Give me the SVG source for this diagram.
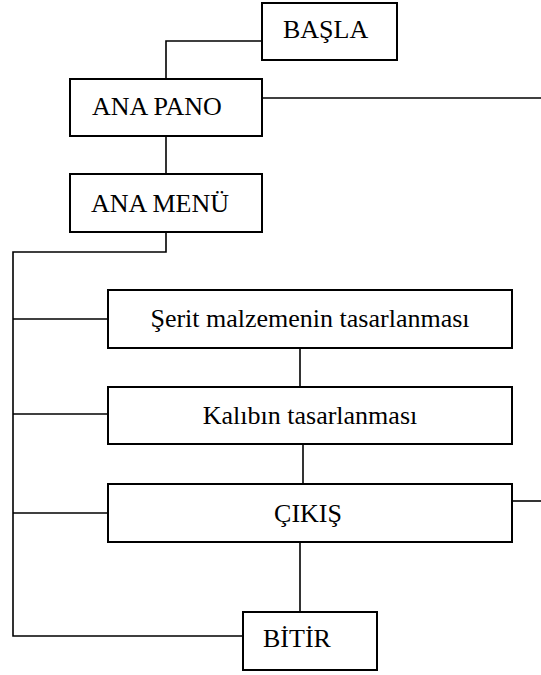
<svg xmlns="http://www.w3.org/2000/svg" width="541" height="675" viewBox="0 0 541 675">
<style>
.box{fill:#fff;stroke:#000;stroke-width:2}
.lbl{font-family:"Liberation Serif","Times New Roman",serif;font-size:26px;fill:#000}
.c{text-anchor:middle}
.conn{fill:none;stroke:#000;stroke-width:1.6}
</style>
<rect width="541" height="675" fill="#fff"/>
<g id="connectors" class="conn">
<polyline points="262,41 166,41 166,79"/>
<line x1="262" y1="98" x2="541" y2="98"/>
<line x1="166" y1="136" x2="166" y2="174"/>
<polyline points="166,232 166,252 13,252 13,636 243,636"/>
<line x1="13" y1="319" x2="111" y2="319"/>
<line x1="13" y1="414" x2="111" y2="414"/>
<line x1="13" y1="513" x2="111" y2="513"/>
<line x1="300" y1="348" x2="300" y2="387"/>
<line x1="303" y1="444" x2="303" y2="484"/>
<line x1="512" y1="501" x2="541" y2="501"/>
<line x1="300" y1="542" x2="300" y2="617"/>
</g>
<g id="basla"><rect class="box" x="262" y="3" width="135" height="57"/><text class="lbl" x="283" y="38">BAŞLA</text></g>
<g id="ana-pano"><rect class="box" x="70" y="79" width="192" height="57"/><text class="lbl" x="92" y="115">ANA PANO</text></g>
<g id="ana-menu"><rect class="box" x="70" y="174" width="192" height="58"/><text class="lbl" x="91" y="212">ANA MENÜ</text></g>
<g id="serit"><rect class="box" x="108" y="290" width="404" height="58"/><text class="lbl c" x="310" y="327">Şerit malzemenin tasarlanması</text></g>
<g id="kalip"><rect class="box" x="108" y="387" width="404" height="57"/><text class="lbl c" x="310" y="424">Kalıbın tasarlanması</text></g>
<g id="cikis"><rect class="box" x="108" y="484" width="404" height="58"/><text class="lbl c" x="308" y="522">ÇIKIŞ</text></g>
<g id="bitir"><rect class="box" x="243" y="612" width="134" height="58"/><text class="lbl" x="263" y="647">BİTİR</text></g>
</svg>
